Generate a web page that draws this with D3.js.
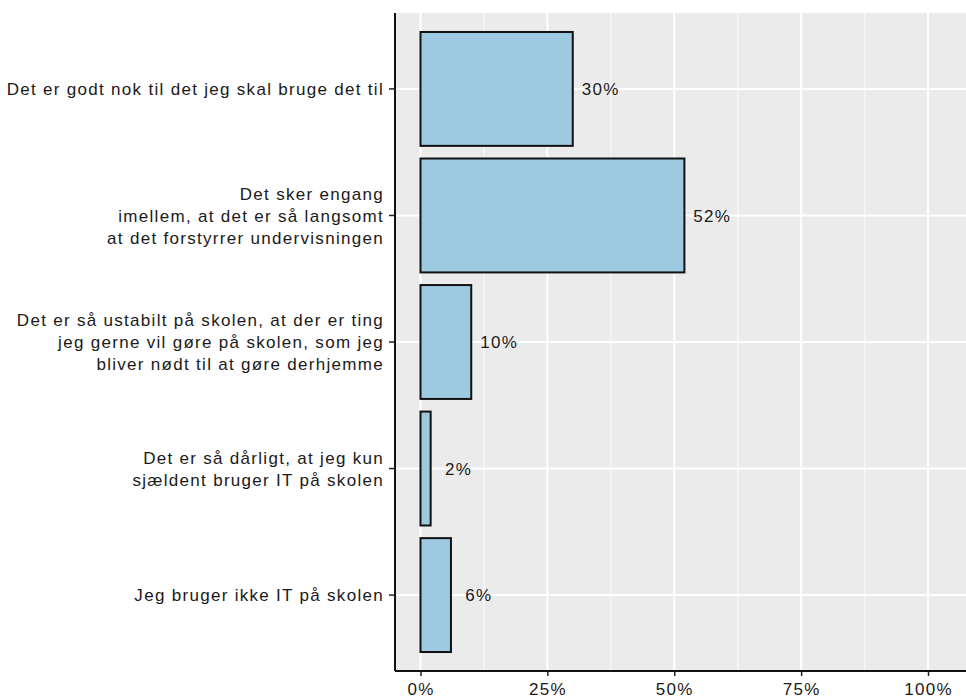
<!DOCTYPE html>
<html>
<head>
<meta charset="utf-8">
<script src="https://cdn.jsdelivr.net/npm/d3@7"></script>
<style>
  html, body { margin: 0; padding: 0; background: #ffffff; }
  svg { display: block; }
  text { font-family: "Liberation Sans", Arial, sans-serif; }
</style>
</head>
<body>
<svg id="chart" width="966" height="698"></svg>
<script>
const categories = [
  "Det er godt nok til det jeg skal bruge det til",
  "Det sker engang\nimellem, at det er så langsomt\nat det forstyrrer undervisningen",
  "Det er så ustabilt på skolen, at der er ting\njeg gerne vil gøre på skolen, som jeg\nbliver nødt til at gøre derhjemme",
  "Det er så dårligt, at jeg kun\nsjældent bruger IT på skolen",
  "Jeg bruger ikke IT på skolen"
];
const values = [30, 52, 10, 2, 6];
const valueLabels = ["30%", "52%", "10%", "2%", "6%"];
const xTicks = [0, 25, 50, 75, 100];
const xTickLabels = ["0%", "25%", "50%", "75%", "100%"];
const xMinorTicks = [12.5, 37.5, 62.5, 87.5];

const W = 966, H = 698;
const panel = { top: 13, bottom: 671, left: 395, right: 966 };
const FS = 17, LS = 1.3, TXT = "#1a1a1a";

const svg = d3.select("#chart");

const x = d3.scaleLinear().domain([0, 100]).range([420.5, 928]);
const y = d3.scaleBand().domain(categories)
  .range([panel.top, panel.bottom])
  .paddingInner(0.1).paddingOuter(0.15);

// panel background
svg.append("rect")
  .attr("x", panel.left).attr("y", panel.top)
  .attr("width", panel.right - panel.left)
  .attr("height", panel.bottom - panel.top)
  .attr("fill", "#ebebeb");

// minor vertical grid
svg.append("g").selectAll("line").data(xMinorTicks).join("line")
  .attr("x1", d => x(d)).attr("x2", d => x(d))
  .attr("y1", panel.top).attr("y2", panel.bottom)
  .attr("stroke", "#f7f7f7").attr("stroke-width", 1.5);

// major vertical grid
svg.append("g").selectAll("line").data(xTicks).join("line")
  .attr("x1", d => x(d)).attr("x2", d => x(d))
  .attr("y1", panel.top).attr("y2", panel.bottom)
  .attr("stroke", "#ffffff").attr("stroke-width", 2);

// horizontal grid
svg.append("g").selectAll("line").data(categories).join("line")
  .attr("x1", panel.left).attr("x2", panel.right)
  .attr("y1", d => y(d) + y.bandwidth() / 2).attr("y2", d => y(d) + y.bandwidth() / 2)
  .attr("stroke", "#ffffff").attr("stroke-width", 2);

// bars
svg.append("g").selectAll("rect").data(values).join("rect")
  .attr("x", x(0))
  .attr("y", (d, i) => y(categories[i]))
  .attr("width", d => x(d) - x(0))
  .attr("height", y.bandwidth())
  .attr("fill", "#9ecae1")
  .attr("stroke", "#111111")
  .attr("stroke-width", 2);

// value labels
svg.append("g").selectAll("text").data(values).join("text")
  .attr("x", d => x(d + 5.5))
  .attr("y", (d, i) => y(categories[i]) + y.bandwidth() / 2)
  .attr("dy", "0.36em")
  .attr("text-anchor", "middle")
  .attr("font-size", FS)
  .attr("letter-spacing", LS)
  .attr("fill", TXT)
  .text((d, i) => valueLabels[i]);

// x axis
const xAxis = d3.axisBottom(x).tickValues(xTicks)
  .tickFormat((d, i) => xTickLabels[i]).tickSize(5).tickPadding(7);
const gx = svg.append("g").attr("transform", `translate(0,${panel.bottom})`).call(xAxis);
gx.select(".domain").remove();
gx.selectAll(".tick line").attr("stroke", "#222").attr("stroke-width", 1.5);
gx.selectAll(".tick text").attr("font-size", FS).attr("letter-spacing", LS)
  .attr("fill", TXT).attr("font-family", "Liberation Sans, Arial, sans-serif");
svg.append("line")
  .attr("x1", panel.left).attr("x2", panel.right)
  .attr("y1", panel.bottom).attr("y2", panel.bottom)
  .attr("stroke", "#111").attr("stroke-width", 2);

// y axis
const yAxis = d3.axisLeft(y).tickSize(6).tickPadding(5);
const gy = svg.append("g").attr("transform", `translate(${panel.left},0)`).call(yAxis);
gy.select(".domain").remove();
gy.selectAll(".tick line").attr("stroke", "#222").attr("stroke-width", 1.5);
gy.selectAll(".tick text").each(function(d) {
  const t = d3.select(this);
  const lines = d.split("\n");
  const lh = 22;
  t.text(null)
    .attr("font-size", FS).attr("letter-spacing", LS)
    .attr("fill", TXT).attr("font-family", "Liberation Sans, Arial, sans-serif")
    .attr("dy", null);
  lines.forEach((ln, i) => {
    t.append("tspan")
      .attr("x", -11)
      .attr("y", (i - (lines.length - 1) / 2) * lh)
      .attr("dy", "0.36em")
      .text(ln);
  });
});
svg.append("line")
  .attr("x1", panel.left).attr("x2", panel.left)
  .attr("y1", panel.top).attr("y2", panel.bottom)
  .attr("stroke", "#111").attr("stroke-width", 2);
</script>
</body>
</html>
